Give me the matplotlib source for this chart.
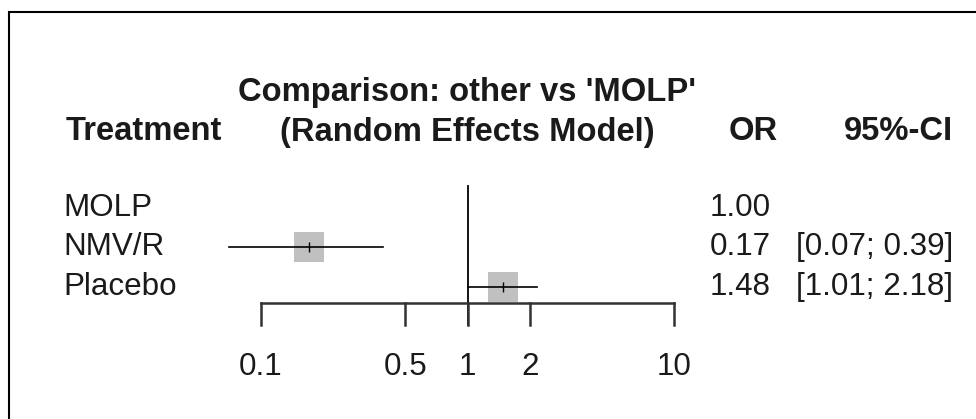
import numpy as np
import matplotlib.pyplot as plt
from matplotlib.patches import Rectangle

plt.rcParams['font.family'] = ['Liberation Sans', 'DejaVu Sans']

# data
treatments = ["MOLP", "NMV/R", "Placebo"]
odds = [1.00, 0.17, 1.48]
ci_low = [np.nan, 0.07, 1.01]
ci_high = [np.nan, 0.39, 2.18]
or_text = ["1.00", "0.17", "1.48"]
ci_text = ["", "[0.07; 0.39]", "[1.01; 2.18]"]
ticks = [0.1, 0.5, 1, 2, 10]
tick_labels = ["0.1", "0.5", "1", "2", "10"]

W, H = 976, 419
fig = plt.figure(figsize=(W / 100, H / 100), dpi=100)
ax = fig.add_axes([0, 0, 1, 1])
ax.set_xscale("log")
# pixel layout: x = 467.5 + 206.5*log10(v), row r at y = 208 + 39.3*r
ppd = 206.5
x0 = 467.5
ax.set_xlim(10 ** (-x0 / ppd), 10 ** ((W - x0) / ppd))
r0, rs = 208.0, 39.3
ax.set_ylim((H - r0) / rs, -r0 / rs)
ax.axis("off")

def ry(px):
    return (px - r0) / rs

fs = 22.6
fsb = 23.6
tc = "#1a1a1a"
yt = ax.get_yaxis_transform()

# reference line at OR = 1
ax.plot([1, 1], [ry(186), ry(325)], color="black", lw=1.3)

# x axis with ticks
ax.plot([ticks[0], ticks[-1]], [ry(303), ry(303)], color="#333333", lw=1.8)
for t, lab in zip(ticks, tick_labels):
    ax.plot([t, t], [ry(303), ry(325)], color="#333333", lw=1.8)
    ax.text(t, ry(367), lab, ha="center", va="center", fontsize=fs, color=tc)

# estimates
for i in range(len(treatments)):
    if np.isnan(ci_low[i]):
        continue
    ax.plot([ci_low[i], ci_high[i]], [i, i], color="black", lw=1.2)
    ax.plot(odds[i], i, marker="s", markersize=21.6, color="#c0c0c0",
            markeredgewidth=0, zorder=1)
    ax.plot(odds[i], i, marker="|", markersize=7, color="black",
            markeredgewidth=1.0, zorder=3)

# row labels and columns
for i, name in enumerate(treatments):
    ax.text(63 / W, i, name, transform=yt, ha="left", va="center",
            fontsize=fs, color=tc)
    ax.text(771 / W, i, or_text[i], transform=yt, ha="right", va="center",
            fontsize=fs, color=tc)
    ax.text(953 / W, i, ci_text[i], transform=yt, ha="right", va="center",
            fontsize=fs, color=tc)

# headers
ax.text(1, ry(92), "Comparison: other vs 'MOLP'", ha="center", va="center",
        fontsize=fsb, fontweight="bold", color=tc)
ax.text(1, ry(132), "(Random Effects Model)", ha="center", va="center",
        fontsize=fsb, fontweight="bold", color=tc)
ax.text(66 / W, ry(132), "Treatment", transform=yt, ha="left", va="center",
        fontsize=fsb, fontweight="bold", color=tc)
ax.text(778 / W, ry(132), "OR", transform=yt, ha="right", va="center",
        fontsize=fsb, fontweight="bold", color=tc)
ax.text(953 / W, ry(132), "95%-CI", transform=yt, ha="right", va="center",
        fontsize=fsb, fontweight="bold", color=tc)

# frame around the figure (runs off right and bottom)
fig.patches.append(Rectangle((9 / W, -0.1), 1.1, (H - 12) / H + 0.1,
                             transform=fig.transFigure, fill=False,
                             edgecolor="black", lw=1.5))

fig.savefig("out.png", dpi=100)
